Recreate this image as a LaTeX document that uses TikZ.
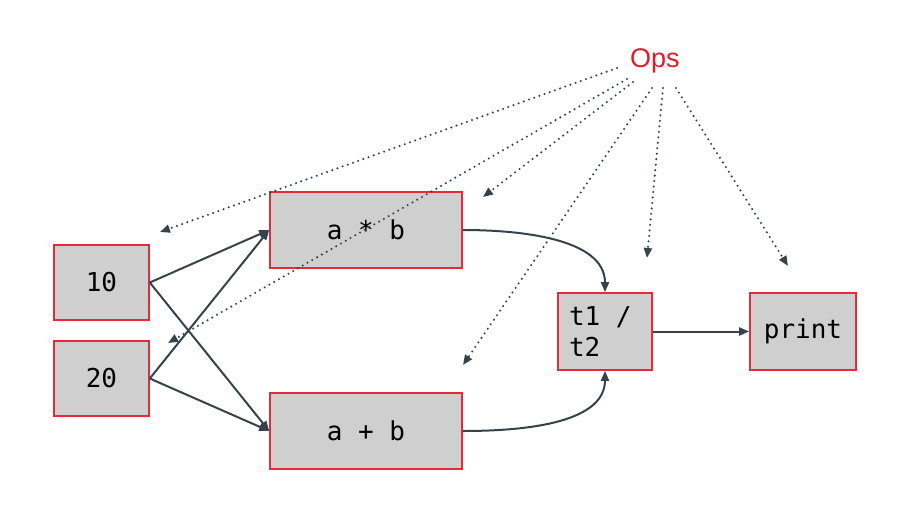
\documentclass[tikz,border=0pt]{standalone}
\usepackage{fontspec}
\setmainfont{Liberation Sans}
\setmonofont{DejaVu Sans Mono}
\usetikzlibrary{arrows.meta}
\definecolor{boxred}{HTML}{E52B3A}
\definecolor{boxfill}{HTML}{CFCFCF}
\definecolor{arr}{HTML}{37434C}
\definecolor{opsred}{HTML}{E8192C}
\begin{document}
\begin{tikzpicture}[x=1pt,y=-1pt,
  box/.style={draw=boxred, fill=boxfill, line width=1.6pt, inner sep=0pt,
    font=\ttfamily\fontsize{26}{31}\selectfont},
  flow/.style={draw=arr, line width=2pt, -{Triangle[length=10pt,width=8pt]}},
  opsarrow/.style={draw=arr, line width=2.3pt, line cap=round,
    dash pattern=on 0pt off 5.5pt, -{Triangle[length=10pt,width=8pt]}}]
\useasboundingbox (0,0) rectangle (898,528);

\node[box, minimum width=95pt, minimum height=75pt] (n10) at (101.5,282.5) {10};
\node[box, minimum width=95pt, minimum height=75pt] (n20) at (101.5,378.5) {20};
\node[box, minimum width=192pt, minimum height=76pt] (mul) at (366,230) {a * b};
\node[box, minimum width=192pt, minimum height=76pt] (add) at (366,431) {a + b};
\node[box, minimum width=94pt, minimum height=77pt, text width=72pt, inner xsep=11pt, align=left] (div) at (605,331.5) {t1\hspace{0.602em}/\\t2};
\node[box, minimum width=106pt, minimum height=77pt] (prt) at (803,331.5) {print};

\node[anchor=base west, inner sep=0pt, text=opsred, font=\fontsize{27}{30}\selectfont] (ops) at (630,67) {Ops};

\draw[flow] (n10.east) -- (mul.west);
\draw[flow] (n10.east) -- (add.west);
\draw[flow] (n20.east) -- (mul.west);
\draw[flow] (n20.east) -- (add.west);
\draw[flow] (mul.east) to[out=0,in=90, looseness=0.9] (div.north);
\draw[flow] (add.east) to[out=0,in=-90, looseness=0.9] (div.south);
\draw[flow] (div.east) -- (prt.west);

\coordinate (s1) at (617,68);
\coordinate (s2) at (627,79);
\coordinate (s3) at (633,82);
\coordinate (s4) at (652,88);
\coordinate (s5) at (663,88);
\coordinate (s6) at (676,88);
\coordinate (e1) at (160,232);
\coordinate (e2) at (168,343);
\coordinate (e3) at (483,197);
\coordinate (e4) at (463,365);
\coordinate (e5) at (647,258);
\coordinate (e6) at (788,266);
\draw[opsarrow] (s1) -- (e1);
\draw[opsarrow] (s2) -- (e2);
\draw[opsarrow] (s3) -- (e3);
\draw[opsarrow] (s4) -- (e4);
\draw[opsarrow] (s5) -- (e5);
\draw[opsarrow] (s6) -- (e6);
\end{tikzpicture}
\end{document}
